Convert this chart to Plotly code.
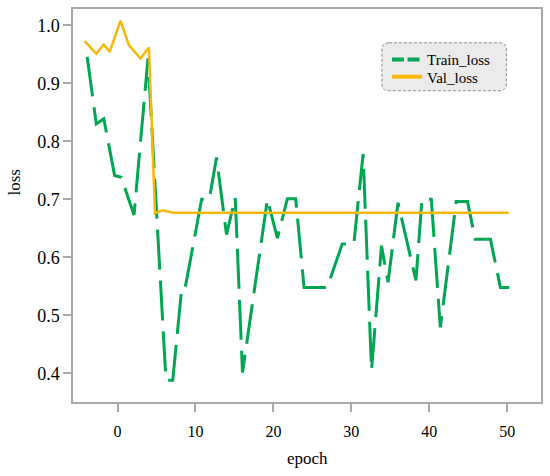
import plotly.graph_objects as go

# values
train_epoch = [-3.90, -2.73, -1.77, -0.38, 0.47, 2.11, 3.90, 6.21, 7.08, 8.25,
               8.70, 10.79, 11.77, 12.70, 13.98, 15.10, 16.03, 19.23, 20.51, 21.79,
               22.86, 23.93, 26.91, 28.83, 30.32, 31.51, 32.59, 33.87, 34.71, 35.99,
               38.29, 39.06, 40.26, 41.42, 43.46, 44.91, 45.89, 47.85, 49.13, 50.28]
train_loss = [0.946, 0.830, 0.839, 0.741, 0.738, 0.673, 0.943, 0.388, 0.388, 0.549,
              0.549, 0.700, 0.700, 0.772, 0.639, 0.703, 0.401, 0.700, 0.633, 0.701,
              0.701, 0.548, 0.548, 0.623, 0.623, 0.778, 0.405, 0.620, 0.557, 0.694,
              0.560, 0.700, 0.700, 0.479, 0.696, 0.696, 0.631, 0.631, 0.548, 0.548]

val_epoch = [-4.22, -2.73, -1.77, -1.02, 0.38, 1.45, 2.94, 4.03, 4.80, 5.76, 7.08, 50.22]
val_loss = [0.973, 0.951, 0.967, 0.954, 1.008, 0.966, 0.943, 0.962, 0.676, 0.681, 0.677, 0.677]

x_ticks = [0, 10, 20, 30, 40, 50]
y_ticks = [0.4, 0.5, 0.6, 0.7, 0.8, 0.9, 1.0]

GREEN = "#00a651"
ORANGE = "#f7b80a"
AXIS = "#a8a8a8"
FONT = "Liberation Serif"

fig = go.Figure()

fig.add_trace(go.Scatter(
    x=train_epoch, y=train_loss, mode="lines", name="Train_loss",
    line=dict(color=GREEN, width=3, dash="40px,11px"), showlegend=False,
))
fig.add_trace(go.Scatter(
    x=val_epoch, y=val_loss, mode="lines", name="Val_loss",
    line=dict(color=ORANGE, width=2.5), showlegend=False,
))

# legend-only entries (thicker, shorter dashes like the reference legend)
fig.add_trace(go.Scatter(
    x=[None], y=[None], mode="lines", name="Train_loss",
    line=dict(color=GREEN, width=4, dash="12px,3.5px"), legend="legend",
))
fig.add_trace(go.Scatter(
    x=[None], y=[None], mode="lines", name="Val_loss",
    line=dict(color=ORANGE, width=4), legend="legend2",
))

# rounded, dashed legend box
x0, x1, y0, y1 = 0.660, 0.926, 0.914, 0.792
rx, ry = 0.015, 0.018
box = (f"M{x0 + rx},{y0} L{x1 - rx},{y0} Q{x1},{y0} {x1},{y0 - ry} "
       f"L{x1},{y1 + ry} Q{x1},{y1} {x1 - rx},{y1} L{x0 + rx},{y1} "
       f"Q{x0},{y1} {x0},{y1 + ry} L{x0},{y0 - ry} Q{x0},{y0} {x0 + rx},{y0} Z")
fig.add_shape(type="path", path=box, xref="paper", yref="paper",
              fillcolor="#ebebeb", line=dict(color="#8a8a8a", width=1, dash="3px,2px"),
              layer="above")

legend_style = dict(
    x=0.671, xanchor="left", yanchor="middle",
    bgcolor="rgba(0,0,0,0)", borderwidth=0,
    font=dict(family=FONT, size=15, color="black"),
)

fig.update_xaxes(
    range=[-5.72, 54.34], tickvals=x_ticks,
    showline=True, mirror=True, linecolor=AXIS, linewidth=1.5,
    ticks="outside", ticklen=8, tickwidth=1.5, tickcolor=AXIS,
    tickfont=dict(family=FONT, size=16, color="black"),
    ticklabelstandoff=6,
    showgrid=False, zeroline=False,
)
fig.update_yaxes(
    range=[0.3503, 1.0283], tickvals=y_ticks, tickformat=".1f",
    showline=True, mirror=True, linecolor=AXIS, linewidth=1.5,
    ticks="outside", ticklen=8, tickwidth=1.5, tickcolor=AXIS,
    tickfont=dict(family=FONT, size=18, color="black"),
    showgrid=False, zeroline=False,
)

fig.add_annotation(text="loss", textangle=-90, xref="paper", yref="paper",
                   x=-0.1255, y=0.559, xanchor="center", yanchor="middle",
                   showarrow=False, font=dict(family=FONT, size=17, color="black"))
fig.add_annotation(text="epoch", xref="paper", yref="paper",
                   x=0.5, y=-0.1443, xanchor="center", yanchor="middle",
                   showarrow=False, font=dict(family=FONT, size=17, color="black"))

fig.update_layout(
    width=550, height=476,
    margin=dict(l=73, r=7, t=7, b=74),
    paper_bgcolor="white", plot_bgcolor="white",
    font=dict(family=FONT),
    legend=dict(y=0.871, **legend_style),
    legend2=dict(y=0.827, **legend_style),
)

# the page's default body margin would shift the figure by 8px
fig.write_html("out.html", config={"displayModeBar": False},
               post_script="document.body.style.margin='0';")
